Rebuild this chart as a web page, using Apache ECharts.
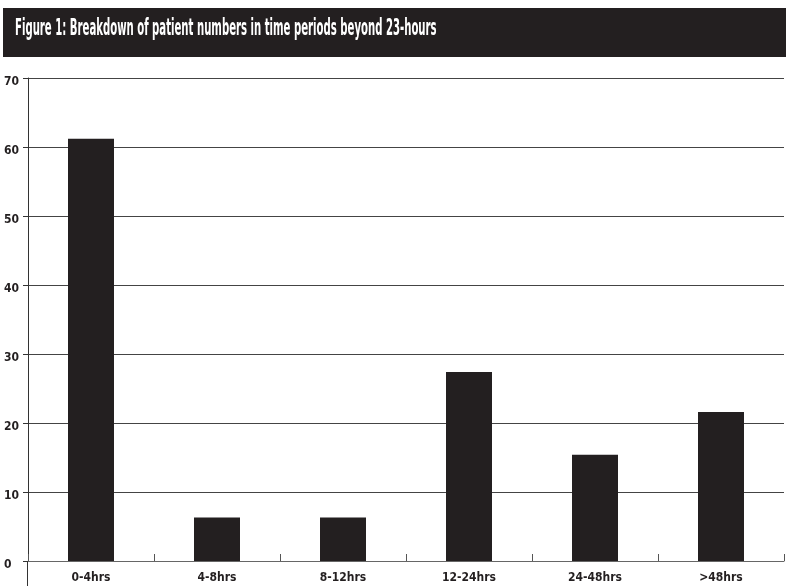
<!DOCTYPE html>
<html>
<head>
<meta charset="utf-8">
<script src="https://cdn.jsdelivr.net/npm/echarts@6/dist/echarts.min.js"></script>
<style>html,body{margin:0;padding:0;background:#fff}#c{width:786px;height:586px}</style>
</head>
<body>
<div id="c"></div>
<script>
const titleText = 'Figure 1: Breakdown of patient numbers in time periods beyond 23-hours';
const categories = ['0-4hrs', '4-8hrs', '8-12hrs', '12-24hrs', '24-48hrs', '>48hrs'];
const patients = [61.2, 6.3, 6.3, 27.4, 15.4, 21.6];
const yTicks = [0, 10, 20, 30, 40, 50, 60, 70];

const FONT = "'Liberation Sans Narrow', 'DejaVu Sans Condensed', sans-serif";
const chart = echarts.init(document.getElementById('c'), null, {renderer: 'canvas'});
chart.setOption({
  animation: false,
  backgroundColor: '#ffffff',
  graphic: [
    {type: 'rect', left: 3, top: 8, shape: {width: 783, height: 49}, style: {fill: '#231f20'}, z: 0},
    {type: 'text', left: 15, top: 18, scaleX: 0.5, originX: 0,
     style: {text: titleText, fill: '#ffffff', font: "bold 22.5px " + FONT}, z: 5},
    {type: 'line', shape: {x1: 27.5, y1: 561, x2: 27.5, y2: 586}, style: {stroke: '#333', lineWidth: 1}}
  ],
  grid: {left: 28, right: 2, top: 78, bottom: 25, containLabel: false},
  xAxis: {
    type: 'category',
    data: categories,
    axisLine: {lineStyle: {color: '#666', width: 1}},
    axisTick: {show: true, inside: true, length: 7, lineStyle: {color: '#555'}},
    axisLabel: {color: '#231f20', fontFamily: FONT, fontWeight: 'bold', fontSize: 12, margin: 11}
  },
  yAxis: {
    type: 'value',
    min: yTicks[0],
    max: yTicks[yTicks.length - 1],
    interval: 10,
    axisLine: {show: true, lineStyle: {color: '#333', width: 1}},
    axisTick: {show: true, length: 5, lineStyle: {color: '#333'}},
    axisLabel: {color: '#231f20', fontFamily: FONT, fontWeight: 'bold', fontSize: 12, margin: 24, align: 'left', verticalAlign: 'top', lineHeight: 7},
    splitLine: {show: true, lineStyle: {color: '#444', width: 1}}
  },
  series: [{
    type: 'bar',
    data: patients,
    barWidth: 46,
    itemStyle: {color: '#231f20'}
  }]
});
</script>
</body>
</html>
